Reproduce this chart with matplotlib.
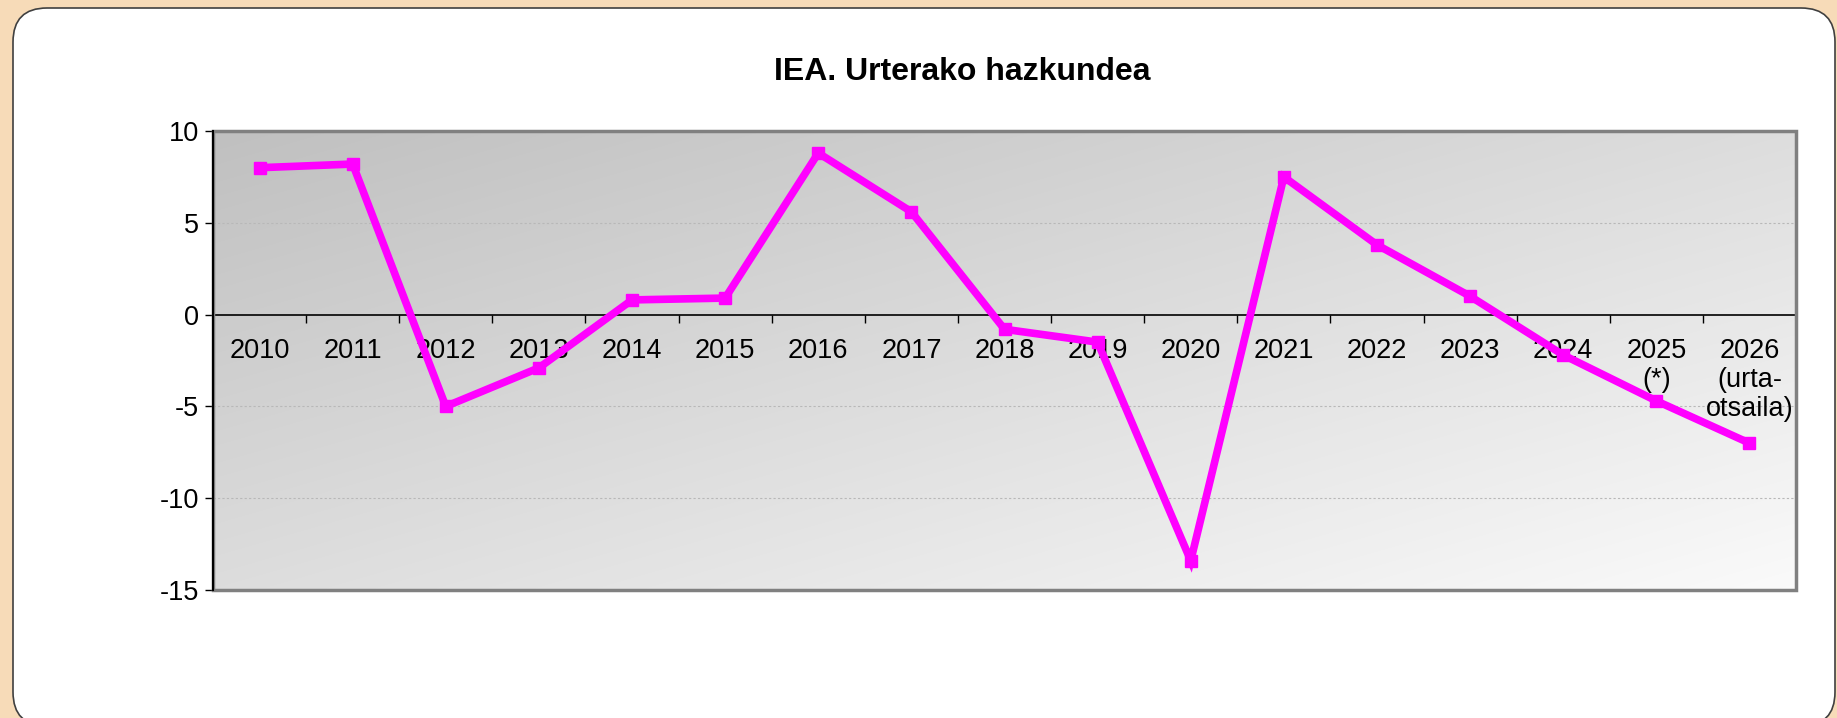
import numpy as np
import matplotlib
matplotlib.use("Agg")
import matplotlib.pyplot as plt
from matplotlib.patches import FancyBboxPatch, Rectangle
from matplotlib.transforms import IdentityTransform
from matplotlib.colors import LinearSegmentedColormap

plt.rcParams["font.family"] = ["Liberation Sans", "DejaVu Sans"]

# data
years = ["2010", "2011", "2012", "2013", "2014", "2015", "2016", "2017", "2018",
         "2019", "2020", "2021", "2022", "2023", "2024", "2025\n(*)",
         "2026\n(urta-\notsaila)"]
growth = [8.0, 8.2, -5.0, -2.9, 0.8, 0.9, 8.8, 5.6, -0.8,
          -1.5, -13.4, 7.5, 3.8, 1.0, -2.2, -4.7, -7.0]
title = "IEA. Urterako hazkundea"

W, H = 1837, 718
fig = plt.figure(figsize=(W / 100, H / 100), dpi=100)
fig.patch.set_facecolor("#F7DBB8")

# white rounded card
card = FancyBboxPatch((13, -8), 1822, 718, boxstyle="round,pad=0,rounding_size=34",
                      transform=IdentityTransform(), facecolor="white",
                      edgecolor="#404040", linewidth=1.2, zorder=0)
fig.add_artist(card)

left, right, top, bottom = 213, 1796, 131, 590
ax = fig.add_axes([left / W, 1 - bottom / H, (right - left) / W, (bottom - top) / H])
ax.set_zorder(2)

# diagonal gray gradient for the plot area
gx, gy = np.meshgrid(np.linspace(0, 1, 300), np.linspace(0, 1, 120))
grad = 0.5 * (gx + gy)
cmap = LinearSegmentedColormap.from_list("g", ["#C0C0C0", "#FAFAFA"])
ax.imshow(grad, extent=[0, 1, 0, 1], transform=ax.transAxes, cmap=cmap,
          aspect="auto", origin="upper", zorder=0, interpolation="bilinear")

x = np.arange(len(years))
ax.set_xlim(-0.5, len(years) - 0.5)
ax.set_ylim(-15, 10)

for yv in [5, -5, -10]:
    ax.axhline(yv, color="#B8B8B8", lw=0.8, ls=(0, (2, 2)), zorder=1)

ax.plot(x, growth, color="#FF00FF", lw=5.5, marker="s", ms=8, zorder=5,
        solid_joinstyle="miter", clip_on=False)

# spines: bottom becomes the zero axis, frame drawn separately
for s in ["top", "right"]:
    ax.spines[s].set_visible(False)
ax.spines["bottom"].set_position(("data", 0))
ax.spines["bottom"].set_color("black")
ax.spines["bottom"].set_linewidth(1.2)
ax.spines["left"].set_color("black")
ax.spines["left"].set_linewidth(1.5)
ax.spines["left"].set_zorder(4)
ax.add_patch(Rectangle((0, 0), 1, 1, transform=ax.transAxes, fill=False,
                       edgecolor="#808080", lw=2.5, zorder=3, clip_on=False))

ax.set_yticks([-15, -10, -5, 0, 5, 10])
ax.set_yticklabels(["-15", "-10", "-5", "0", "5", "10"])
ax.tick_params(axis="y", direction="out", length=6, width=1, pad=4, labelsize=19.5)

ax.set_xticks(np.arange(len(years) + 1) - 0.5)
ax.set_xticklabels([])
ax.set_xticks(x, minor=True)
ax.set_xticklabels(years, minor=True)
ax.tick_params(axis="x", which="major", direction="out", length=6, width=1)
ax.tick_params(axis="x", which="minor", length=0, pad=17, labelsize=19.5)
for lbl in ax.get_xticklabels(minor=True):
    lbl.set_linespacing(1.15)
    lbl.set_zorder(6)

fig.text(962 / W, 1 - 72 / H, title, ha="center", va="center",
         fontsize=23, fontweight="bold")

fig.savefig("out.png", dpi=100, facecolor=fig.get_facecolor())
